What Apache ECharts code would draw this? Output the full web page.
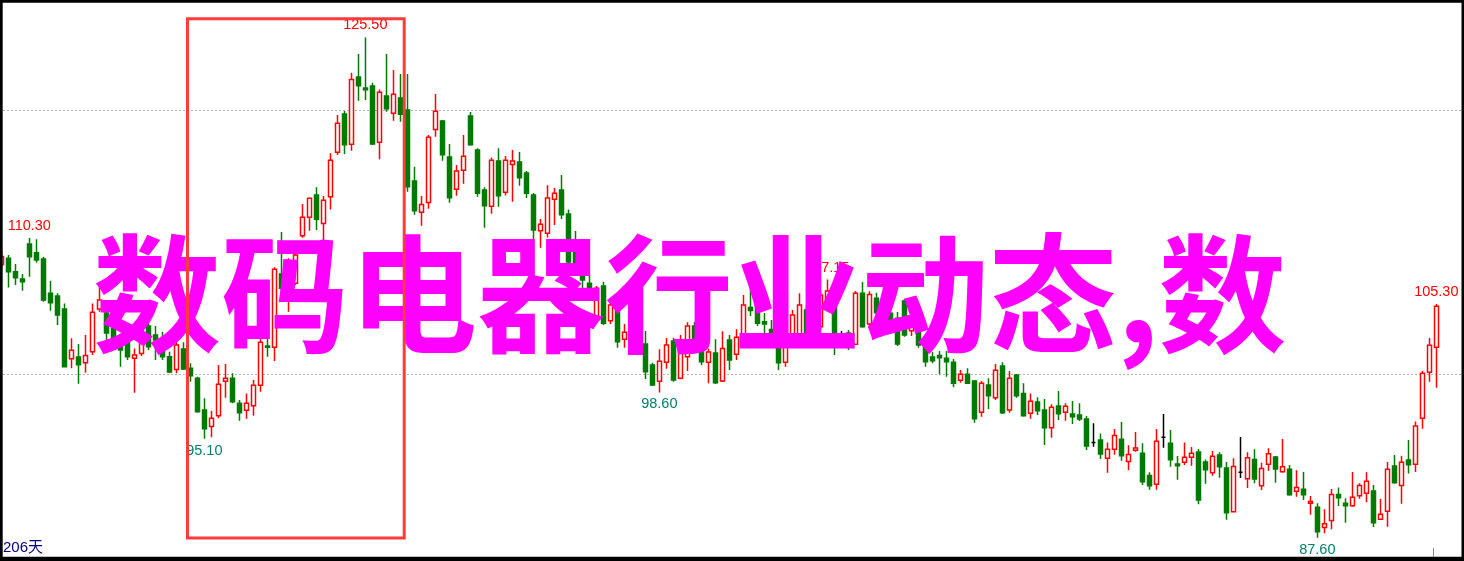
<!DOCTYPE html>
<html>
<head>
<meta charset="utf-8">
<style>
html,body{margin:0;padding:0;background:#fff;}
#c{width:1464px;height:561px;}
</style>
<script src="https://cdn.jsdelivr.net/npm/echarts@6/dist/echarts.min.js"></script>
</head>
<body>
<div id="c"></div>
<script>
// ---- data (206 trading days) ----
var openP = [108.30,
108.76,107.75,107.19,109.84,109.19,108.71,106.11,105.91,104.92,101.16,
101.28,100.86,101.69,104.92,104.62,103.46,102.42,102.70,101.19,101.56,
103.63,102.95,101.82,101.31,100.35,101.89,100.43,99.67,97.27,96.03,
96.84,99.45,99.67,97.78,97.25,97.60,99.14,102.12,102.02,107.57,
105.61,106.87,110.47,111.87,113.56,111.41,113.43,116.79,119.69,117.40,
122.50,121.66,121.82,117.55,121.06,119.75,120.91,120.00,114.62,112.25,
113.00,118.53,119.16,116.44,113.99,115.43,119.54,116.97,113.94,112.70,
116.13,113.76,115.88,116.06,115.22,113.56,110.85,110.66,113.23,113.94,
112.12,110.15,107.88,106.87,104.22,106.66,104.04,104.85,102.63,104.09,
102.19,102.27,100.68,99.45,100.89,102.50,99.67,101.31,103.63,101.82,
100.89,101.59,99.47,102.57,101.49,102.95,105.03,105.61,103.96,103.38,
101.94,100.89,102.95,102.95,104.85,104.09,103.58,105.22,105.22,102.95,
103.10,102.25,106.11,103.79,105.73,105.22,104.60,104.22,105.53,103.28,
103.33,102.12,101.28,101.41,101.19,100.89,99.52,99.98,99.47,97.10,
99.17,98.20,100.60,97.27,99.92,98.53,97.02,97.88,97.27,95.93,
97.57,97.10,96.97,96.89,96.59,94.82,95.00,93.61,94.29,95.05,
93.38,94.22,93.99,92.32,91.64,95.20,94.75,93.18,93.31,93.69,
94.09,93.33,92.52,93.86,92.88,89.57,92.55,92.07,93.53,91.54,
93.16,93.71,92.60,92.78,91.11,91.26,90.20,89.90,88.38,88.91,
90.88,90.20,90.02,90.78,90.96,91.13,88.99,89.60,93.03,91.56,
93.48,93.16,96.64,100.13,102.02];
var closeP = [108.90,
107.75,107.29,106.99,108.88,108.63,105.61,105.40,104.47,100.55,101.79,
100.70,101.41,104.67,105.61,103.10,102.70,101.82,101.31,101.44,102.32,
102.07,102.57,101.31,100.15,102.19,100.38,99.87,97.14,95.85,96.64,
99.22,99.67,97.90,97.06,97.78,99.14,102.40,102.02,107.93,106.49,
108.03,109.01,111.87,113.31,111.72,113.16,116.19,118.99,117.37,122.32,
121.84,121.53,117.42,121.34,120.10,121.19,119.67,114.19,112.37,112.85,
117.93,119.90,116.61,113.36,115.38,116.49,117.37,113.69,112.75,116.19,
113.50,116.19,116.13,114.87,113.69,110.91,111.34,113.33,113.69,112.07,
108.48,108.18,107.12,106.41,106.49,103.84,105.22,102.45,103.16,102.95,
103.71,100.17,99.17,100.96,102.19,99.54,102.32,103.63,101.97,100.93,
101.67,99.34,101.94,101.06,102.78,105.22,104.81,103.84,103.79,102.95,
100.86,102.95,104.47,105.22,102.95,102.95,105.98,106.29,102.19,102.95,
102.19,106.11,103.58,106.03,104.64,104.39,104.04,102.27,102.95,103.58,
102.19,100.93,101.00,101.23,100.93,99.30,99.98,99.30,96.61,99.30,
98.35,100.28,97.06,99.67,98.35,96.84,97.93,97.22,95.93,97.48,
96.99,97.55,96.76,96.59,94.54,94.82,93.94,94.29,95.35,93.81,
93.91,94.39,91.84,91.54,94.90,95.20,93.51,93.05,93.69,93.99,
90.45,92.75,93.76,92.97,89.49,93.00,92.55,93.66,92.04,92.85,
93.96,92.80,92.97,90.85,91.41,90.85,90.35,88.05,88.66,90.88,
90.63,90.02,90.66,91.56,91.87,88.73,89.37,92.78,91.76,93.31,
93.12,96.06,100.05,102.17,105.13];
var lowP = [108.00,
106.56,106.74,106.31,107.37,108.43,105.47,104.79,103.71,100.50,100.43,
99.26,100.09,101.44,104.72,102.57,102.19,100.55,101.06,98.58,101.36,
101.82,101.06,101.06,100.05,100.05,100.30,99.42,97.06,95.10,95.20,
96.64,98.20,97.78,96.46,96.61,96.84,98.66,101.31,100.98,105.98,
104.72,106.74,110.32,110.85,110.91,110.00,112.47,116.59,116.66,116.91,
120.70,120.75,117.35,116.26,119.87,119.19,119.11,113.81,112.07,111.23,
112.52,117.97,116.16,112.97,113.50,114.41,117.29,113.43,111.08,112.14,
112.67,113.53,113.05,114.26,113.33,110.20,109.56,110.35,111.28,111.74,
108.03,107.88,106.41,105.61,104.09,103.71,103.79,101.99,101.99,102.57,
101.67,99.62,99.09,98.60,100.40,99.42,99.60,100.23,101.67,100.68,
99.30,99.24,99.39,100.30,101.06,102.80,104.39,103.64,103.10,102.19,
100.30,100.55,102.73,102.65,102.57,102.50,103.33,104.85,101.44,102.80,
101.82,102.19,103.51,103.58,104.47,104.09,103.94,102.12,102.82,102.88,
101.99,100.55,100.81,99.98,99.79,98.99,99.34,99.24,96.31,96.76,
97.35,98.03,96.97,97.06,98.20,96.76,96.61,96.89,94.62,95.17,
96.51,96.46,96.21,96.44,94.24,94.49,93.56,92.52,93.88,93.43,
92.70,94.11,91.59,91.23,91.23,94.41,92.97,91.99,93.10,93.05,
90.13,91.69,92.29,92.14,88.96,89.52,92.12,91.36,91.72,91.21,
92.67,91.76,92.52,90.78,90.70,90.45,89.34,87.60,87.93,88.23,
90.00,88.73,89.94,90.55,90.28,88.41,88.94,88.43,91.69,90.17,
92.47,92.57,95.85,99.42,98.96];
var highP = [109.30,
109.01,108.33,107.57,110.30,110.20,108.88,107.06,106.11,105.35,102.70,
102.27,102.95,105.35,106.89,105.22,103.94,102.57,102.95,101.94,102.57,
103.94,103.63,103.20,101.69,102.57,102.40,100.81,99.79,98.16,97.20,
100.68,100.76,100.05,98.03,98.53,99.54,102.73,102.65,108.08,110.75,
108.76,109.39,112.88,113.33,114.14,113.48,116.72,119.62,119.92,122.82,
124.24,125.50,122.07,121.56,124.24,123.03,122.72,122.72,115.70,113.48,
118.10,121.21,119.24,117.42,115.83,118.10,119.84,117.10,114.14,116.41,
117.10,116.51,116.97,116.82,115.38,113.71,111.74,114.29,114.09,115.07,
112.47,110.83,108.48,107.50,106.66,106.99,105.61,105.61,103.79,104.47,
104.09,103.26,100.86,101.87,102.73,102.75,102.95,103.92,103.94,102.45,
101.94,102.63,103.23,102.95,103.39,105.98,106.36,105.98,104.62,104.09,
103.10,103.10,104.85,106.11,105.22,104.40,106.29,107.15,105.61,103.26,
103.33,106.29,106.97,106.26,106.16,105.61,105.38,104.70,105.68,103.71,
103.71,102.35,101.69,101.74,101.74,101.14,100.30,100.43,99.54,99.47,
99.67,100.76,100.89,100.23,100.00,99.30,98.53,98.23,98.10,97.70,
98.71,97.78,97.95,97.78,96.82,96.26,95.50,94.82,95.83,96.36,
94.60,95.60,94.75,92.55,95.83,96.97,95.76,93.79,94.82,94.47,
94.32,93.53,94.17,94.07,93.33,93.61,95.22,94.07,94.29,93.28,
94.37,93.79,95.07,93.10,92.70,92.57,90.75,90.20,89.75,91.28,
91.41,90.58,92.57,91.72,92.55,91.59,90.53,93.33,93.86,93.81,
95.00,96.41,100.25,102.73,105.30];
// labelled extremes: day index and which price (high above, low below)
var labelDays  = [4, 52, 29, 94, 118, 205, 188];
var labelKinds = ['high','high','low','low','high','high','low'];
var dayCount = openP.length; // 206
var titleText = '数码电器行业动态,数';
var daysText = dayCount + '天';
var gridLevels = [100, 120];

var days = openP.map(function (_, i) { return String(i + 1); });
var kData = openP.map(function (o, i) { return [o, closeP[i], lowP[i], highP[i]]; });

var marks = labelDays.map(function (d, k) {
  var isHigh = labelKinds[k] === 'high';
  var v = isHigh ? highP[d] : lowP[d];
  return {
    coord: [d, v], value: v,
    label: {
      position: isHigh ? 'top' : 'bottom',
      color: isHigh ? '#ff0000' : '#00806a'
    }
  };
});

var chart = echarts.init(document.getElementById('c'), null, {renderer: 'canvas'});
chart.setOption({
  animation: false,
  backgroundColor: '#ffffff',
  grid: [
    {left: 1.3, right: 27.7, top: 4.4, height: 554.4},
    {left: 3, right: 3, top: 110, height: 264}
  ],
  xAxis: [
    {type: 'category', gridIndex: 0, data: days, boundaryGap: false, show: false},
    {type: 'value', gridIndex: 1, min: 0, max: 1, show: false}
  ],
  yAxis: [
    {type: 'value', gridIndex: 0, min: 86, max: 128, show: false, splitLine: {show: false}},
    {type: 'value', gridIndex: 1, min: gridLevels[0], max: gridLevels[1], interval: 20,
     axisLine: {show: false}, axisTick: {show: false}, axisLabel: {show: false},
     splitLine: {show: true, lineStyle: {color: '#b0b0b0', width: 1, type: [2, 2]}}}
  ],
  series: [
    {
      type: 'candlestick', xAxisIndex: 0, yAxisIndex: 0,
      data: kData, barWidth: 4, clip: false,
      itemStyle: {
        color: '#ffffff', color0: '#007a00',
        borderColor: '#ff0000', borderColor0: '#007a00',
        borderColorDoji: '#000000', borderWidth: 1.5
      },
      markPoint: {
        symbol: 'rect', symbolSize: 1,
        itemStyle: {color: 'rgba(0,0,0,0)'},
        label: {
          show: true, distance: 4,
          fontFamily: 'Liberation Sans, Arial, sans-serif', fontSize: 14.5,
          formatter: function (p) { return Number(p.value).toFixed(2); }
        },
        data: marks
      }
    }
  ],
  graphic: [
    {type: 'text', z: 100, left: 93, top: 230,
     style: {text: titleText, fill: '#ff00ff',
       font: 'bold 128px "Noto Sans CJK SC", sans-serif'}},
    {type: 'rect', z: 110, shape: {x: 187.5, y: 18.7, width: 216.7, height: 519.3},
     style: {fill: 'none', stroke: '#ff3b3b', lineWidth: 3}},
    {type: 'text', z: 110, left: 3, top: 540,
     style: {text: daysText, fill: '#000080',
       font: '15px "Liberation Sans", "Noto Sans CJK SC", sans-serif'}},
    {type: 'line', z: 110, shape: {x1: 1433.5, y1: 548, x2: 1433.5, y2: 557},
     style: {stroke: '#8a8a8a', lineWidth: 1}},
    {type: 'rect', z: 120, shape: {x: 0, y: 0, width: 1464, height: 2.7}, style: {fill: '#000'}},
    {type: 'rect', z: 120, shape: {x: 0, y: 0, width: 2.7, height: 561}, style: {fill: '#000'}},
    {type: 'rect', z: 120, shape: {x: 1461.5, y: 0, width: 2.5, height: 561}, style: {fill: '#000'}},
    {type: 'rect', z: 120, shape: {x: 0, y: 556.8, width: 1464, height: 4.2}, style: {fill: '#000'}}
  ]
});
</script>
</body>
</html>
